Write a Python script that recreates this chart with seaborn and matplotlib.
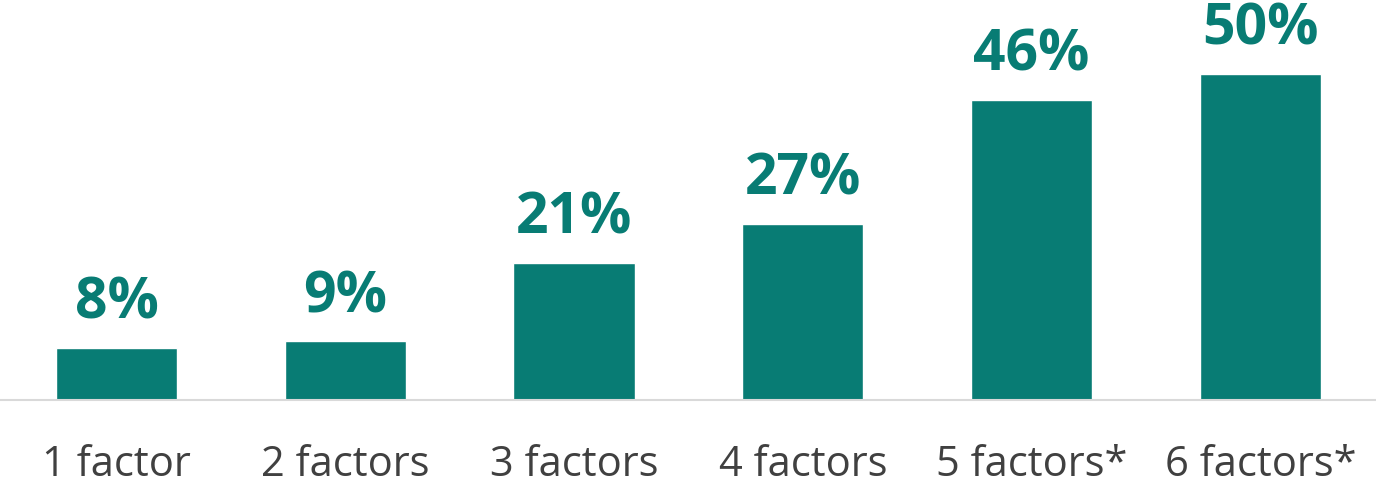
import matplotlib
matplotlib.use("Agg")
import matplotlib.pyplot as plt
import seaborn as sns
import pandas as pd

categories = ["1 factor", "2 factors", "3 factors", "4 factors", "5 factors*", "6 factors*"]
values = [8, 9, 21, 27, 46, 50]
value_labels = ["8%", "9%", "21%", "27%", "46%", "50%"]

BAR_COLOR = "#087C74"
TEXT_COLOR = "#404040"

sns.set_theme(style="white")
plt.rcParams["font.family"] = ["Open Sans", "DejaVu Sans"]

df = pd.DataFrame({"category": categories, "value": values})

fig = plt.figure(figsize=(13.76, 4.86), dpi=100)
ax = fig.add_axes([0, 86 / 486, 1, 400 / 486])

sns.barplot(data=df, x="category", y="value", color=BAR_COLOR, width=0.53,
            saturation=1, ax=ax)

ax.set_xlim(-0.509, 5.505)
ax.set_ylim(0, 61.35)

ax.bar_label(ax.containers[0], labels=value_labels, padding=11,
             fontsize=41, fontweight="bold", color=BAR_COLOR)

for side in ("top", "left", "right"):
    ax.spines[side].set_visible(False)
ax.spines["bottom"].set_color("#D9D9D9")
ax.spines["bottom"].set_linewidth(1.5)

ax.set_yticks([])
ax.set_xlabel("")
ax.set_ylabel("")
ax.tick_params(axis="x", length=0, pad=31.5, labelsize=30, labelcolor=TEXT_COLOR)

fig.savefig("out.png", dpi=100, facecolor="white")
